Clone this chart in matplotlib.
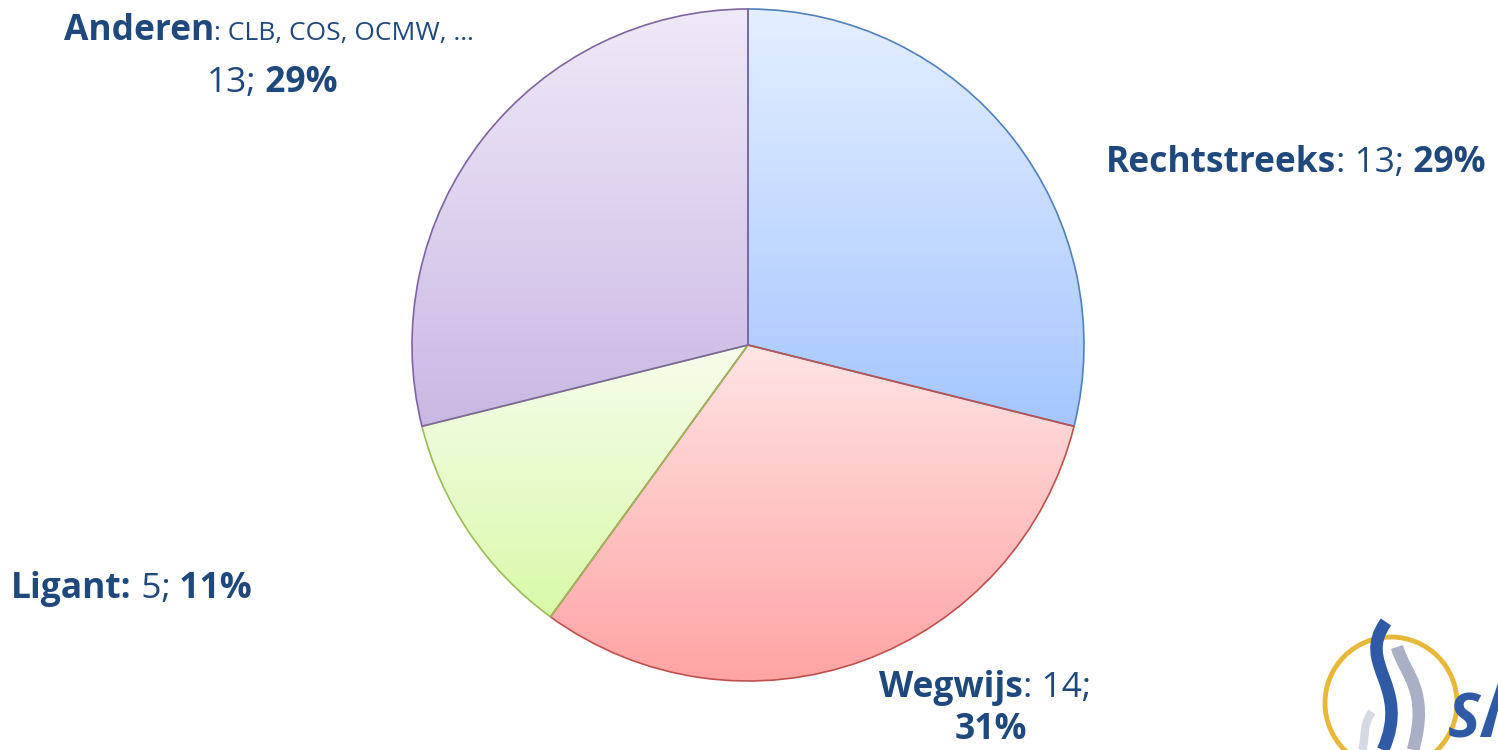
import numpy as np
import matplotlib

matplotlib.use("Agg")
import matplotlib.pyplot as plt
from matplotlib.colors import LinearSegmentedColormap
from matplotlib.patches import Circle, Polygon, PathPatch
from matplotlib.path import Path

# data
labels = ["Rechtstreeks", "Wegwijs", "Ligant", "Anderen"]
counts = [13, 14, 5, 13]
percents = ["29%", "31%", "11%", "29%"]

# slice styling: (top colour, bottom colour, edge colour)
fills = [
    ("#e4efff", "#a5c6ff", "#4f81bd"),
    ("#ffe4e4", "#ffa3a3", "#c0504d"),
    ("#f6fdec", "#d9f9a9", "#9bbb59"),
    ("#f0e9f8", "#cab8e4", "#8064a2"),
]
TEXT = "#1f497d"
FONT = "Open Sans"
W, H = 1498, 750


def py(y):
    # pixel row (from top) -> data y
    return H - y


fig = plt.figure(figsize=(W / 100, H / 100), dpi=100)
ax = fig.add_axes([0, 0, 1, 1])

wedges, _ = ax.pie(
    counts,
    center=(748, py(345)),
    radius=336,
    startangle=90,
    counterclock=False,
    frame=True,
    wedgeprops=dict(linewidth=1.2),
)
ax.set_aspect("equal")
ax.axis("off")

for w, (top, bot, edge) in zip(wedges, fills):
    w.set_facecolor("none")
    w.set_edgecolor(edge)
    w.set_zorder(3)
    verts = w.get_path().vertices
    x0, y0 = verts.min(axis=0)
    x1, y1 = verts.max(axis=0)
    cmap = LinearSegmentedColormap.from_list("g", [bot, top])
    grad = np.linspace(0, 1, 256).reshape(-1, 1)
    im = ax.imshow(grad, cmap=cmap, extent=(x0, x1, y0, y1), origin="lower",
                   aspect="auto", zorder=2, interpolation="bilinear")
    clip = PathPatch(w.get_path(), transform=ax.transData, facecolor="none", edgecolor="none")
    ax.add_patch(clip)
    im.set_clip_path(clip)

ax.set_xlim(0, W)
ax.set_ylim(0, H)

renderer = fig.canvas.get_renderer()


def draw_runs(x, y, runs):
    for s, bold, size in runs:
        t = ax.text(x, py(y), s, fontsize=size, fontweight="bold" if bold else "normal",
                    family=FONT, color=TEXT, va="baseline", ha="left", zorder=5)
        x += t.get_window_extent(renderer=renderer).width


big = 25.5
small = 19

draw_runs(64, 40, [("Anderen", True, big), (": CLB, COS, OCMW, …", False, small)])
draw_runs(207, 92, [(str(counts[3]) + ";", False, big), (" " + percents[3], True, big)])
draw_runs(1106, 172, [(labels[0], True, big), (": " + str(counts[0]) + ";", False, big),
                      (" " + percents[0], True, big)])
draw_runs(879, 697, [(labels[1], True, big), (": " + str(counts[1]) + ";", False, big)])
draw_runs(955, 739, [(percents[1], True, big)])
draw_runs(11, 598, [(labels[2] + ":", True, big), (" " + str(counts[2]) + ";", False, big),
                    (" " + percents[2], True, big)])

# logo fragment bottom right
ax.add_patch(Circle((1391, py(703)), 66, facecolor="none", edgecolor="#e8b83a", linewidth=3.5, zorder=4))
grey = Path([(1397, py(647)), (1405, py(675)), (1430, py(690)), (1413, py(750))],
            [Path.MOVETO, Path.CURVE4, Path.CURVE4, Path.CURVE4])
ax.add_patch(PathPatch(grey, facecolor="none", edgecolor="#a9b0c6", linewidth=9, zorder=4))
grey2 = Path([(1372, py(712)), (1362, py(725)), (1366, py(740)), (1362, py(750))],
             [Path.MOVETO, Path.CURVE4, Path.CURVE4, Path.CURVE4])
ax.add_patch(PathPatch(grey2, facecolor="none", edgecolor="#d6d9e3", linewidth=6, zorder=4))
blue = Path([(1386, py(622)), (1355, py(665)), (1412, py(685)), (1383, py(750))],
            [Path.MOVETO, Path.CURVE4, Path.CURVE4, Path.CURVE4])
ax.add_patch(PathPatch(blue, facecolor="none", edgecolor="#2e5aa6", linewidth=9, zorder=4))
ax.text(1448, py(737), "S", fontsize=44, fontweight="bold", style="italic", family=FONT,
        color="#2e5aa6", va="baseline", ha="left", zorder=5)
ax.add_patch(Polygon([(1480, py(737)), (1491, py(737)), (1498, py(710)), (1498, py(683))],
                     closed=True, facecolor="#2e5aa6", edgecolor="none", zorder=5))

fig.savefig("out.png", dpi=100)
